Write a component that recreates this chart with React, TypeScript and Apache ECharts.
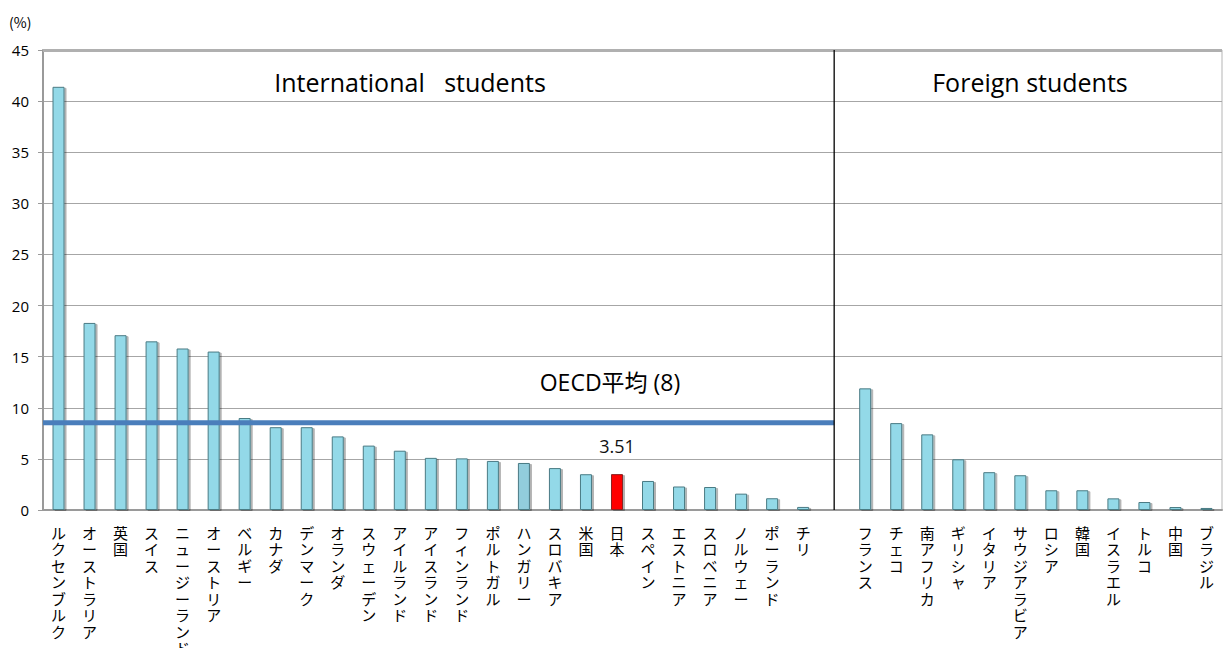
import React, { useEffect, useRef } from "react";
import * as echarts from "echarts";

const intlCountries = [
  "ルクセンブルク", "オーストラリア", "英国", "スイス", "ニュージーランド", "オーストリア",
  "ベルギー", "カナダ", "デンマーク", "オランダ", "スウェーデン", "アイルランド",
  "アイスランド", "フィンランド", "ポルトガル", "ハンガリー", "スロバキア", "米国",
  "日本", "スペイン", "エストニア", "スロベニア", "ノルウェー", "ポーランド", "チリ",
];
const intlValues = [
  41.4, 18.3, 17.1, 16.5, 15.8, 15.5, 9.0, 8.1, 8.1, 7.2, 6.3, 5.8,
  5.1, 5.05, 4.8, 4.6, 4.1, 3.5, 3.51, 2.84, 2.3, 2.25, 1.6, 1.15, 0.3,
];
const foreignCountries = [
  "フランス", "チェコ", "南アフリカ", "ギリシャ", "イタリア", "サウジアラビア",
  "ロシア", "韓国", "イスラエル", "トルコ", "中国", "ブラジル",
];
const foreignValues = [11.9, 8.5, 7.4, 4.96, 3.7, 3.4, 1.93, 1.93, 1.14, 0.78, 0.29, 0.2];
const yTicks = [0, 5, 10, 15, 20, 25, 30, 35, 40, 45];
const oecdLevel = 8.54;
const highlightJapan = "日本";
const highlightHungary = "ハンガリー";

export default function App() {
  const ref = useRef<HTMLDivElement>(null);
  useEffect(() => {
    document.body.style.margin = "0";
    const chart = echarts.init(ref.current!, null, { renderer: "svg" });
    const categories = [...intlCountries, "", ...foreignCountries];
    const values: any[] = [...intlValues, "-", ...foreignValues];
    const n = categories.length;
    const splitX = intlCountries.length + 0.5;
    const barData = values.map((v, i) => {
      const name = categories[i];
      if (name === highlightJapan) {
        return {
          value: v,
          itemStyle: { color: "#ff0000", borderColor: "#8b2020" },
          label: {
            show: true,
            position: "top",
            distance: 19,
            formatter: String(v),
            fontSize: 18,
            fontFamily: "Open Sans",
            color: "#111",
          },
        };
      }
      if (name === highlightHungary) {
        return { value: v, itemStyle: { color: "#92cddc" } };
      }
      return v;
    });
    chart.setOption({
      animation: false,
      grid: {
        left: 43,
        right: 2,
        top: 50,
        bottom: 138,
        show: true,
        borderColor: "#b5b5b5",
        borderWidth: 1,
        outerBoundsMode: "none",
        containLabel: false,
      },
      xAxis: [
        {
          type: "category",
          data: categories,
          axisLine: { lineStyle: { color: "#9a9a9a", width: 2 } },
          axisTick: { show: false },
          axisLabel: {
            interval: 0,
            margin: 14,
            color: "#000",
            fontSize: 15,
            lineHeight: 16.5,
            fontFamily: "Noto Sans CJK JP",
            formatter: (v: string) => v.split("").join("\n"),
          },
        },
        {
          type: "value",
          min: 0,
          max: n,
          show: false,
        },
      ],
      yAxis: {
        type: "value",
        min: yTicks[0],
        max: yTicks[yTicks.length - 1],
        interval: yTicks[1] - yTicks[0],
        axisLine: { show: true, lineStyle: { color: "#9a9a9a", width: 2 } },
        axisTick: { show: true, length: 5, lineStyle: { color: "#9a9a9a" } },
        axisLabel: { color: "#000", fontSize: 15, fontFamily: "Open Sans", margin: 14 },
        splitLine: { lineStyle: { color: "#a6a6a6", width: 1 } },
      },
      series: [
        {
          type: "bar",
          xAxisIndex: 0,
          data: barData,
          barWidth: 12,
          itemStyle: {
            color: "#93d9e8",
            borderColor: "#4a7b84",
            borderWidth: 1,
            shadowColor: "rgba(0,0,0,0.3)",
            shadowOffsetX: 2,
            shadowOffsetY: 1,
            shadowBlur: 1,
          },
          markLine: {
            symbol: "none",
            silent: true,
            label: { show: false },
            lineStyle: { color: "#b0b0b0", width: 3, type: "solid" },
            data: [{ yAxis: yTicks[yTicks.length - 1] }],
          },
        },
        {
          type: "line",
          xAxisIndex: 1,
          data: [
            [0, oecdLevel],
            [splitX, oecdLevel],
          ],
          symbol: "none",
          lineStyle: { color: "#4a7ebb", width: 5 },
          z: 5,
        },
        {
          type: "line",
          xAxisIndex: 1,
          data: [
            [splitX, 0],
            [splitX, yTicks[yTicks.length - 1]],
          ],
          symbol: "none",
          lineStyle: { color: "#000", width: 1.3 },
          z: 6,
        },
      ],
      graphic: [
        {
          type: "text",
          left: 9,
          top: 15,
          style: { text: "(%)", fontSize: 14, fontFamily: "Noto Sans CJK JP", fill: "#000" },
        },
        {
          type: "text",
          x: 410,
          y: 82,
          style: {
            text: "International   students",
            fontSize: 25,
            fontFamily: "Open Sans",
            fill: "#000",
            align: "center",
            verticalAlign: "middle",
          },
        },
        {
          type: "text",
          x: 1030,
          y: 82,
          style: {
            text: "Foreign students",
            fontSize: 25,
            fontFamily: "Open Sans",
            fill: "#000",
            align: "center",
            verticalAlign: "middle",
          },
        },
        {
          type: "text",
          x: 610,
          y: 382,
          style: {
            text: "OECD平均 (8)",
            fontSize: 23,
            fontFamily: "Open Sans, Noto Sans CJK JP",
            fill: "#000",
            align: "center",
            verticalAlign: "middle",
          },
        },
      ],
    });
    return () => chart.dispose();
  }, []);
  return <div ref={ref} style={{ width: 1224, height: 648 }} />;
}
